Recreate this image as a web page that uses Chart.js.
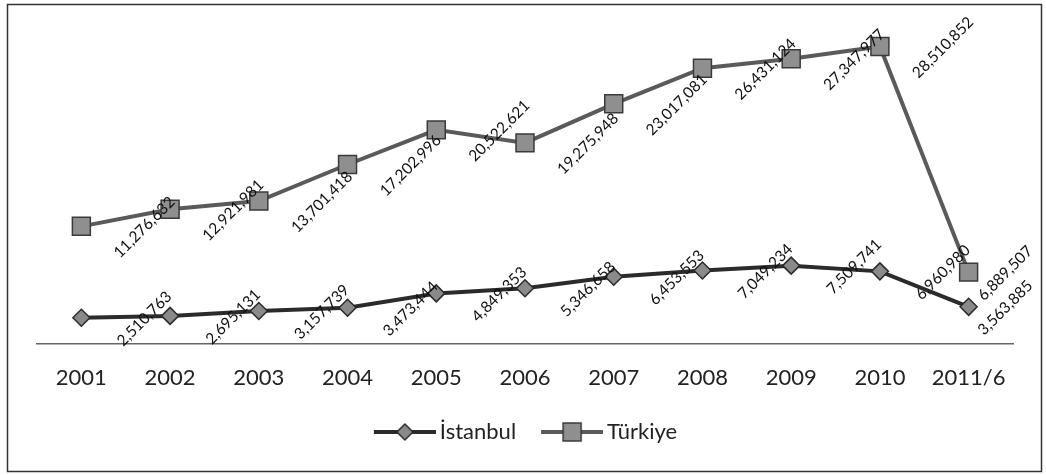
<!DOCTYPE html>
<html>
<head>
<meta charset="utf-8">
<script src="https://cdn.jsdelivr.net/npm/chart.js@4/dist/chart.umd.min.js"></script>
<style>
  html, body { margin: 0; padding: 0; background: #fff; }
  #wrap { width: 1046px; height: 475px; position: relative; }
</style>
</head>
<body>
<div id="wrap"><canvas id="c" width="1046" height="475"></canvas></div>
<script>
const categories = ['2001','2002','2003','2004','2005','2006','2007','2008','2009','2010','2011/6'];
const istanbul = [2510763, 2695131, 3157739, 3473444, 4849353, 5346658, 6453553, 7049234, 7509741, 6960980, 3563885];
const turkiye  = [11276632, 12921981, 13701418, 17202996, 20522621, 19275948, 23017081, 26431124, 27347977, 28510852, 6889507];
const seriesNames = ['İstanbul', 'Türkiye'];

const FONT = 'Lato, "Liberation Sans", sans-serif';

function legendIcon(kind, lineColor, fill, stroke) {
  const cv = document.createElement('canvas');
  cv.width = 70; cv.height = 22;
  const g = cv.getContext('2d');
  g.strokeStyle = lineColor; g.lineWidth = 4;
  g.beginPath(); g.moveTo(8, 11); g.lineTo(70, 11); g.stroke();
  g.fillStyle = fill; g.strokeStyle = stroke; g.lineWidth = 1.5;
  g.beginPath();
  const c = 39;
  if (kind === 'diamond') {
    g.moveTo(c, 3); g.lineTo(c + 8, 11); g.lineTo(c, 19); g.lineTo(c - 8, 11); g.closePath();
  } else {
    g.rect(c - 9, 2, 18, 18);
  }
  g.fill(); g.stroke();
  return cv;
}

const icons = [
  legendIcon('diamond', '#2b2b2b', '#8a8a8a', '#2b2b2b'),
  legendIcon('square', '#5a5a5a', '#8f8f8f', '#3a3a3a')
];

const framePlugin = {
  id: 'frame',
  beforeDraw(chart) {
    const ctx = chart.ctx;
    ctx.save();
    ctx.fillStyle = '#fff';
    ctx.fillRect(0, 0, chart.width, chart.height);
    ctx.strokeStyle = '#333';
    ctx.lineWidth = 1.5;
    ctx.strokeRect(7.5, 4.5, 1034, 467);
    ctx.restore();
  }
};

const labelPlugin = {
  id: 'rotLabels',
  afterDatasetsDraw(chart) {
    const ctx = chart.ctx;
    ctx.save();
    ctx.font = '15.5px ' + FONT;
    ctx.fillStyle = '#111';
    ctx.textAlign = 'center';
    ctx.textBaseline = 'middle';
    chart.data.datasets.forEach((ds, di) => {
      const meta = chart.getDatasetMeta(di);
      meta.data.forEach((pt, i) => {
        const txt = ds.data[i].toLocaleString('en-US');
        const w = ctx.measureText(txt).width;
        let cx = pt.x + 63;
        const maxCx = 1030 - w * 0.3536;
        if (cx > maxCx) cx = maxCx;
        const cy = pt.y + 1;
        ctx.save();
        ctx.translate(cx, cy);
        ctx.rotate(-Math.PI / 4);
        ctx.fillText(txt, 0, 0);
        ctx.restore();
      });
    });
    ctx.restore();
  }
};

new Chart(document.getElementById('c'), {
  type: 'line',
  data: {
    labels: categories,
    datasets: [
      {
        label: seriesNames[0],
        data: istanbul,
        borderColor: '#2b2b2b',
        borderWidth: 4,
        pointStyle: 'rectRot',
        pointRadius: 8.5,
        pointBackgroundColor: '#8a8a8a',
        pointBorderColor: '#2b2b2b',
        pointBorderWidth: 1.5,
        tension: 0
      },
      {
        label: seriesNames[1],
        data: turkiye,
        borderColor: '#5a5a5a',
        borderWidth: 4,
        pointStyle: 'rect',
        pointRadius: 12.7,
        pointBackgroundColor: '#8f8f8f',
        pointBorderColor: '#3a3a3a',
        pointBorderWidth: 1.5,
        tension: 0
      }
    ]
  },
  options: {
    responsive: false,
    animation: false,
    devicePixelRatio: 1,
    layout: { padding: { top: 31, left: 37, right: 33, bottom: 22 } },
    scales: {
      x: {
        type: 'category',
        offset: true,
        grid: { display: false, drawTicks: false },
        border: { display: true, color: '#666', width: 1.5 },
        ticks: { font: { family: FONT, size: 22 }, color: '#222', padding: 21, maxRotation: 0, autoSkip: false },
        afterFit(scale) { scale.height = 53; }
      },
      y: {
        display: false,
        min: 0,
        max: 30000000
      }
    },
    plugins: {
      legend: {
        position: 'bottom',
        labels: {
          usePointStyle: true,
          pointStyleWidth: 56,
          padding: 24,
          color: '#222',
          font: { family: FONT, size: 22 },
          generateLabels(chart) {
            return chart.data.datasets.map((ds, i) => ({
              text: ds.label,
              pointStyle: icons[i],
              fillStyle: ds.pointBackgroundColor,
              strokeStyle: ds.borderColor,
              lineWidth: 0,
              hidden: false,
              datasetIndex: i,
              fontColor: '#222'
            }));
          }
        }
      },
      tooltip: { enabled: false }
    }
  },
  plugins: [framePlugin, labelPlugin]
});
</script>
</body>
</html>
